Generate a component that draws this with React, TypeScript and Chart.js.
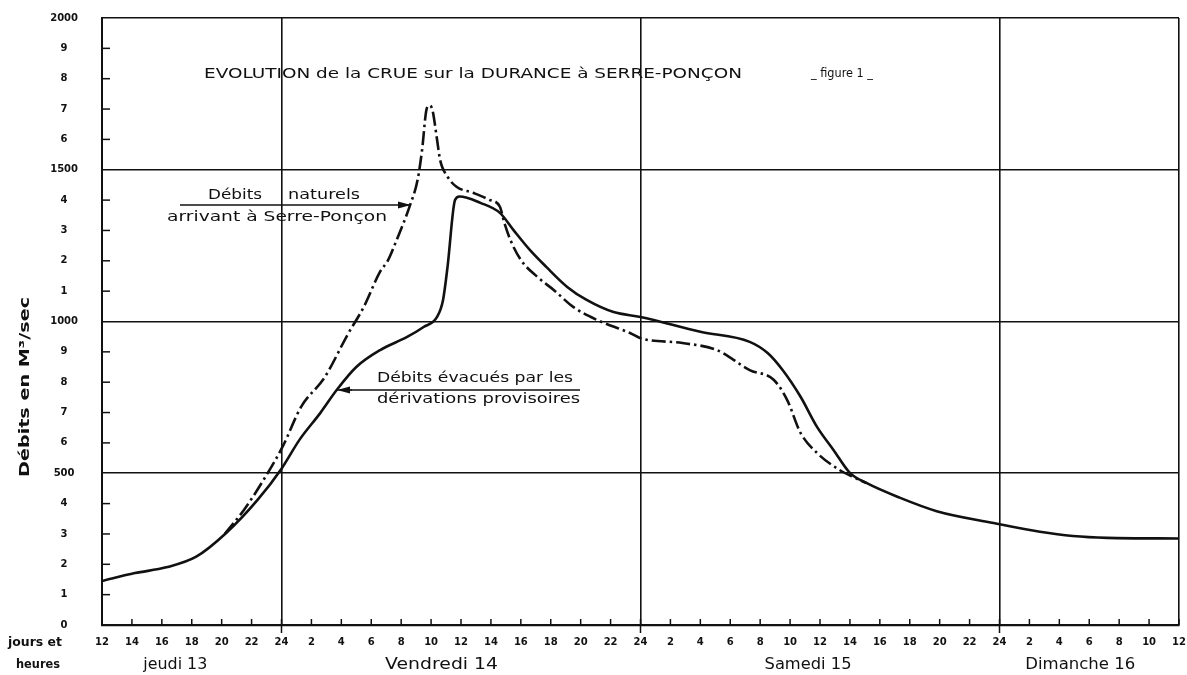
import React, { useEffect, useRef } from "react";
import { Chart, registerables } from "chart.js";

Chart.register(...registerables);

// Hours counted from Thursday 13, 12h
const evacT = [0, 2.2, 4.3, 6.3, 8.3, 10.4, 12, 13.2, 14.6, 15.7, 17.0, 18.6, 20.4, 21.5, 22.4, 22.8, 23.1, 23.6, 23.9, 25.3, 26.6, 27.5, 28.6, 29.7, 31.1, 32.4, 34.2, 36.0, 40.0, 43.3, 44.5, 45.5, 46.7, 47.8, 48.9, 50.0, 51.1, 53.3, 55.8, 59.6, 62.7, 64.9, 67.2, 72];
const evacV = [145, 171, 190, 225, 303, 412, 515, 610, 699, 775, 850, 906, 949, 982, 1015, 1071, 1180, 1400, 1412, 1391, 1358, 1302, 1236, 1180, 1114, 1071, 1031, 1015, 966, 933, 896, 840, 752, 653, 577, 501, 468, 420, 375, 336, 307, 293, 287, 285];

const natT = [8.2, 9.5, 10.7, 12.1, 13.3, 14.9, 16.4, 17.5, 18.6, 19.1, 19.7, 20.6, 21.1, 21.4, 21.7, 21.9, 22.1, 22.4, 22.6, 23.1, 23.7, 24.8, 25.9, 26.6, 26.9, 27.3, 28.0, 29.1, 30.2, 31.5, 33.1, 35.3, 36.0, 38.8, 41.1, 43.3, 44.9, 45.8, 46.7, 47.8, 49.3, 50.2, 51.1];
const natV = [300, 380, 470, 590, 718, 817, 955, 1048, 1165, 1200, 1269, 1384, 1467, 1566, 1700, 1712, 1695, 1599, 1533, 1477, 1444, 1424, 1401, 1378, 1325, 1269, 1203, 1147, 1104, 1048, 1005, 962, 945, 929, 906, 840, 808, 742, 633, 567, 511, 488, 468];

const dayLabels = ["jeudi 13", "Vendredi 14", "Samedi 15", "Dimanche 16"];
const dayLabelHours = [4.9, 22.7, 47.2, 65.4];

const titleText = "EVOLUTION de la CRUE sur la DURANCE à SERRE-PONÇON";
const figureText = "_ figure 1 _";
const yAxisTitle = "Débits en M³/sec";
const naturalLabel = ["Débits", "naturels", "arrivant à Serre-Ponçon"];
const evacLabel = ["Débits évacués par les", "dérivations provisoires"];
const axisCorner = ["jours et", "heures"];

const FONT = '"DejaVu Sans", sans-serif';

function fitText(ctx: CanvasRenderingContext2D, text: string, x: number, y: number, width: number, font: string) {
  ctx.save();
  ctx.font = font;
  ctx.textAlign = "left";
  ctx.textBaseline = "middle";
  const w = ctx.measureText(text).width;
  ctx.translate(x, y);
  ctx.scale(width / w, 1);
  ctx.fillText(text, 0, 0);
  ctx.restore();
}

function arrow(ctx: CanvasRenderingContext2D, x1: number, y: number, tipX: number) {
  ctx.beginPath();
  ctx.moveTo(x1, y);
  ctx.lineTo(tipX, y);
  ctx.stroke();
  const dir = tipX > x1 ? 1 : -1;
  ctx.beginPath();
  ctx.moveTo(tipX, y);
  ctx.lineTo(tipX - dir * 13, y - 3.5);
  ctx.lineTo(tipX - dir * 13, y + 3.5);
  ctx.closePath();
  ctx.fill();
}

const overlay = {
  id: "overlay",
  afterDraw(chart: any) {
    const { ctx, chartArea } = chart;
    const xs = chart.scales.x;
    const ys = chart.scales.y;
    ctx.save();
    ctx.strokeStyle = "#111";
    ctx.fillStyle = "#111";
    ctx.lineWidth = 1.5;
    // inward tick marks on x axis
    for (let h = 0; h <= 72; h += 2) {
      const px = xs.getPixelForValue(h);
      ctx.beginPath();
      const midnight = h % 24 === 12;
      ctx.moveTo(px, chartArea.bottom + (midnight ? 8 : 0));
      ctx.lineTo(px, chartArea.bottom - 6);
      ctx.stroke();
    }
    // inward tick marks on y axis
    for (let v = 100; v < 2000; v += 100) {
      if (v % 500 === 0) continue;
      const py = ys.getPixelForValue(v);
      ctx.beginPath();
      ctx.moveTo(chartArea.left, py);
      ctx.lineTo(chartArea.left + 8, py);
      ctx.stroke();
    }
    // title
    fitText(ctx, titleText, 204, 74, 538, `14px ${FONT}`);
    fitText(ctx, figureText, 811, 74, 62, `12px ${FONT}`);
    // natural flow label
    fitText(ctx, naturalLabel[0], 208, 195, 54, `14px ${FONT}`);
    fitText(ctx, naturalLabel[1], 288, 195, 72, `14px ${FONT}`);
    fitText(ctx, naturalLabel[2], 167, 217, 220, `14px ${FONT}`);
    ctx.lineWidth = 1.3;
    arrow(ctx, 180, 205, 411);
    // evacuated flow label
    fitText(ctx, evacLabel[0], 377, 378, 196, `14px ${FONT}`);
    fitText(ctx, evacLabel[1], 377, 399, 203, `14px ${FONT}`);
    ctx.beginPath();
    ctx.moveTo(580, 390);
    ctx.lineTo(350, 390);
    ctx.stroke();
    arrow(ctx, 352, 390, 337);
    // y axis title
    ctx.save();
    ctx.translate(25, 387);
    ctx.rotate(-Math.PI / 2);
    ctx.font = `bold 14px ${FONT}`;
    ctx.textAlign = "center";
    ctx.textBaseline = "middle";
    const tw = ctx.measureText(yAxisTitle).width;
    ctx.scale(180 / tw, 1);
    ctx.fillText(yAxisTitle, 0, 0);
    ctx.restore();
    // corner labels
    fitText(ctx, axisCorner[0], 8, 643, 54, `bold 13px ${FONT}`);
    fitText(ctx, axisCorner[1], 16, 665, 44, `bold 13px ${FONT}`);
    // day labels
    const dayWidths = [64, 113, 87, 110];
    dayLabels.forEach((d, i) => {
      const cx = xs.getPixelForValue(dayLabelHours[i]);
      fitText(ctx, d, cx - dayWidths[i] / 2, 665, dayWidths[i], `15px ${FONT}`);
    });
    ctx.restore();
  },
};

export default function App() {
  const ref = useRef<HTMLCanvasElement>(null);
  useEffect(() => {
    document.body.style.margin = "0";
    document.body.style.background = "#fff";
    const canvas = ref.current!;
    const chart = new Chart(canvas, {
      type: "line",
      data: {
        datasets: [
          {
            label: "Débits évacués par les dérivations provisoires",
            data: evacT.map((t, i) => ({ x: t, y: evacV[i] })),
            borderColor: "#111",
            borderWidth: 2.6,
            pointRadius: 0,
            cubicInterpolationMode: "monotone",
            fill: false,
          },
          {
            label: "Débits naturels arrivant à Serre-Ponçon",
            data: natT.map((t, i) => ({ x: t, y: natV[i] })),
            borderColor: "#111",
            borderWidth: 2.6,
            borderDash: [14, 4, 2.5, 4],
            pointRadius: 0,
            cubicInterpolationMode: "monotone",
            fill: false,
          },
        ],
      },
      options: {
        animation: false,
        responsive: false,
        maintainAspectRatio: false,
        layout: { padding: { left: 0, top: 18, right: 8, bottom: 0 } },
        plugins: { legend: { display: false }, tooltip: { enabled: false } },
        scales: {
          x: {
            type: "linear",
            min: 0,
            max: 72,
            afterFit: (s: any) => {
              s.height = 50;
              s.paddingLeft = 0;
              s.paddingRight = 0;
            },
            grid: {
              drawTicks: false,
              color: (c: any) => {
                const v = c.tick?.value;
                return v % 24 === 12 || v === 72 ? "#111" : "rgba(0,0,0,0)";
              },
              lineWidth: 1.6,
            },
            border: { display: true, color: "#111", width: 2.2 },
            ticks: {
              stepSize: 2,
              autoSkip: false,
              maxRotation: 0,
              padding: 11,
              color: "#111",
              font: { family: FONT, size: 10, weight: "bold" },
              callback: (v: any) => {
                const h = (12 + Number(v)) % 24;
                return h === 0 ? "24" : String(h);
              },
            },
          },
          y: {
            type: "linear",
            min: 0,
            max: 2000,
            afterFit: (s: any) => {
              s.width = 102;
              s.paddingTop = 0;
              s.paddingBottom = 0;
            },
            grid: {
              drawTicks: false,
              color: (c: any) => {
                const v = c.tick?.value;
                return v % 500 === 0 && v > 0 ? "#111" : "rgba(0,0,0,0)";
              },
              lineWidth: 1.6,
            },
            border: { display: true, color: "#111", width: 2 },
            ticks: {
              stepSize: 100,
              autoSkip: false,
              crossAlign: "center",
              padding: 24,
              color: "#111",
              font: { family: FONT, size: 10, weight: "bold" },
              callback: (v: any) => {
                const n = Number(v);
                return n % 500 === 0 ? String(n) : String((n / 100) % 10);
              },
            },
          },
        },
      },
      plugins: [overlay],
    } as any);
    return () => chart.destroy();
  }, []);
  return <canvas ref={ref} width={1187} height={675} style={{ display: "block" }} />;
}
